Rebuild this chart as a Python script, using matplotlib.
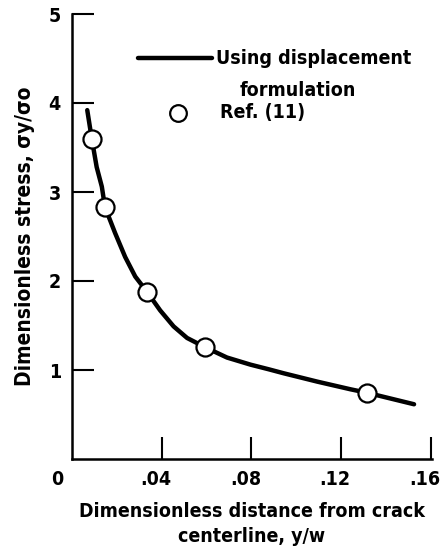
import matplotlib
matplotlib.use("Agg")
import matplotlib.pyplot as plt
import matplotlib.transforms as mtransforms

plt.rcParams['font.family'] = ['DejaVu Sans']
plt.rcParams['font.stretch'] = 'condensed'
plt.rcParams['font.weight'] = 'bold'
plt.rcParams['axes.labelweight'] = 'bold'

# Curve: using displacement formulation
curve_x = [0.0068, 0.0088, 0.0110, 0.0133, 0.0147, 0.0192, 0.0237, 0.0282, 0.0334,
           0.0393, 0.0453, 0.0513, 0.0594, 0.0691, 0.0796, 0.0877, 0.0944, 0.1094,
           0.1242, 0.1314, 0.1525]
curve_y = [3.92, 3.60, 3.28, 3.06, 2.83, 2.54, 2.27, 2.05, 1.88,
           1.67, 1.49, 1.36, 1.255, 1.14, 1.06, 1.008, 0.963, 0.869,
           0.783, 0.745, 0.615]

# Ref. (11) points
ref_x = [0.0088, 0.0147, 0.0334, 0.0594, 0.1314]
ref_y = [3.60, 2.83, 1.88, 1.255, 0.745]

xticks = [0.04, 0.08, 0.12, 0.16]
xticklabels = ['.04', '.08', '.12', '.16']
yticks = [1, 2, 3, 4, 5]
yticklabels = ['1', '2', '3', '4', '5']

fig = plt.figure(figsize=(4.42, 5.54), dpi=100)
ax = fig.add_axes([72/442, 1-459/554, 360/442, 445/554])

ax.plot(curve_x, curve_y, color='black', lw=3.2, solid_capstyle='round',
        solid_joinstyle='round', zorder=2)
ax.plot(ref_x, ref_y, 'o', ms=13, mfc='white', mec='black', mew=1.6, zorder=3)

ax.set_xlim(0, 0.1605)
ax.set_ylim(0, 5)
for s in ['top', 'right']:
    ax.spines[s].set_visible(False)
for s in ['left', 'bottom']:
    ax.spines[s].set_linewidth(1.8)

ax.set_xticks(xticks)
ax.set_xticklabels(xticklabels)
ax.set_yticks(yticks)
ax.set_yticklabels(yticklabels)
ax.tick_params(direction='in', length=16, width=1.5, labelsize=14, pad=8)
off = mtransforms.ScaledTranslation(-6/100, 0, fig.dpi_scale_trans)
for lab in ax.get_xticklabels():
    lab.set_transform(lab.get_transform() + off)

# "0" label at origin
ax.text(-0.04, -0.025, '0', transform=ax.transAxes, ha='center', va='top', fontsize=14)

ax.set_xlabel('Dimensionless distance from crack\ncenterline, y/w', fontsize=14,
              labelpad=9, linespacing=1.45)
ax.set_ylabel('Dimensionless stress, σy/σo', fontsize=15, labelpad=10)

# legend key drawn manually
ax.plot([0.183, 0.389], [0.901, 0.901], transform=ax.transAxes, color='black', lw=3.2,
        clip_on=False, solid_capstyle='round')
ax.text(0.400, 0.901, 'Using displacement', transform=ax.transAxes, ha='left', va='center', fontsize=14)
ax.text(0.467, 0.829, 'formulation', transform=ax.transAxes, ha='left', va='center', fontsize=14)
ax.plot([0.294], [0.778], 'o', transform=ax.transAxes, ms=12, mfc='white', mec='black',
        mew=1.6, clip_on=False)
ax.text(0.411, 0.778, 'Ref. (11)', transform=ax.transAxes, ha='left', va='center', fontsize=14)

fig.savefig('out.png', dpi=100)
